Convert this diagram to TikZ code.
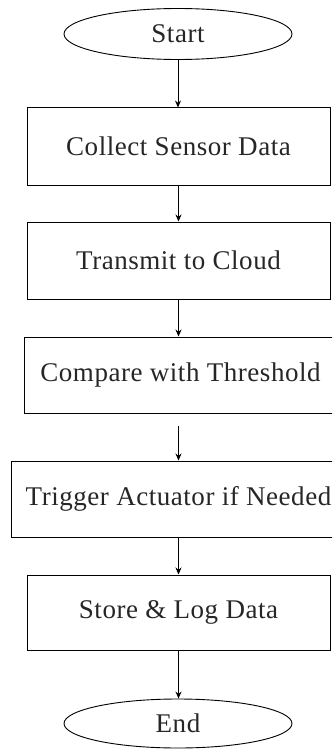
\documentclass[tikz,border=0pt]{standalone}
\usepackage{fontspec}
\setmainfont[LetterSpace=2]{Liberation Serif}
\usetikzlibrary{shapes.geometric,arrows.meta}
\begin{document}
\begin{tikzpicture}[x=1pt,y=-1pt,
  txt/.style={font=\fontsize{27}{32}\selectfont, text=black!85},
  proc/.style={txt, draw, line width=1pt, minimum height=77pt, inner sep=0pt},
  term/.style={txt, draw, ellipse, line width=0.9pt, minimum width=228pt, minimum height=51pt, inner sep=0pt},
  conn/.style={draw, line width=1pt, -{Stealth[length=7pt,width=6pt]}}]
\useasboundingbox (0,0) rectangle (332,749);
\clip (0,0) rectangle (332,749);
\node[term] (start) at (178,34) {Start};
\node[proc, minimum width=303pt] (collect) at (178.5,146.5) {Collect Sensor Data};
\node[proc, minimum width=303pt] (transmit) at (178.5,260.5) {Transmit to Cloud};
\node[proc, minimum width=312pt, minimum height=76pt] (compare) at (180.5,375) {Compare with Threshold};
\node[proc, minimum width=335pt, minimum height=76pt] (trigger) at (178.5,499) {Trigger Actuator if Needed};
\node[proc, minimum width=303pt, minimum height=75pt] (store) at (178.5,612.5) {Store \& Log Data};
\node[term, minimum height=49pt] (end) at (178,723.5) {End};
\draw[conn] (start) -- (start |- collect.north);
\draw[conn] (collect) -- (transmit);
\draw[conn] (transmit) -- (transmit |- compare.north);
\draw[conn, shorten <=12pt] (compare.south -| trigger) -- (trigger);
\draw[conn] (store) -- (store |- end.north);
\draw[conn] (trigger) -- (store);
\end{tikzpicture}
\end{document}
